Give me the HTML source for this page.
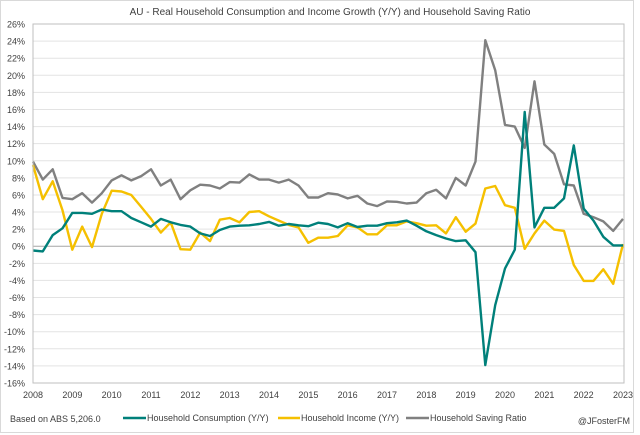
<!DOCTYPE html>
<html><head><meta charset="utf-8"><style>
html,body{margin:0;padding:0;background:#fff;}
svg{display:block;font-family:"Liberation Sans",Arial,sans-serif;}
</style></head><body>
<svg id="chart" width="640" height="435" viewBox="0 0 640 435" xmlns="http://www.w3.org/2000/svg">
<rect x="0.5" y="0.5" width="633" height="432" fill="#fff" stroke="#d9d9d9"/>
<text x="330" y="15" text-anchor="middle" font-size="10" fill="#404040">AU - Real Household Consumption and Income Growth (Y/Y) and Household Saving Ratio</text>
<g id="grid"></g><g id="series"></g><g id="axes"></g>
<text x="10" y="422" font-size="9" fill="#404040">Based on ABS 5,206.0</text>
<g font-size="9" fill="#404040">
<line x1="123" y1="418" x2="146" y2="418" stroke="#00807a" stroke-width="2.5"/>
<text x="147" y="421">Household Consumption (Y/Y)</text>
<line x1="278" y1="418" x2="300" y2="418" stroke="#f5c000" stroke-width="2.5"/>
<text x="301" y="421">Household Income (Y/Y)</text>
<line x1="406" y1="418" x2="429" y2="418" stroke="#808080" stroke-width="2.5"/>
<text x="430" y="421">Household Saving Ratio</text>
</g>
<text x="630" y="424" text-anchor="end" font-size="9" fill="#404040">@JFosterFM</text>
</svg>
<script>
const years = ["2008","2009","2010","2011","2012","2013","2014","2015","2016","2017","2018","2019","2020","2021","2022","2023"];
const yTicks = [-16,-14,-12,-10,-8,-6,-4,-2,0,2,4,6,8,10,12,14,16,18,20,22,24,26];
const consumption = [-0.5,-0.6,1.3,2.1,3.9,3.9,3.8,4.3,4.1,4.1,3.3,2.8,2.3,3.2,2.8,2.5,2.3,1.5,1.2,1.9,2.3,2.4,
2.45,2.6,2.85,2.4,2.6,2.45,2.35,2.75,2.6,2.2,2.7,2.25,2.4,2.4,2.7,2.8,3.0,2.4,1.75,1.3,
0.9,0.6,0.7,-0.7,-13.9,-6.9,-2.6,-0.4,15.7,2.2,4.5,4.5,5.6,11.8,4.4,3.0,1.1,0.1,0.1];
const income = [9.5,5.5,7.6,4.2,-0.4,2.3,-0.1,3.8,6.5,6.4,6.0,4.6,3.2,1.6,2.8,-0.35,-0.4,1.6,0.6,3.1,3.3,2.8,
4.0,4.1,3.5,3.0,2.5,2.2,0.4,1.0,1.0,1.2,2.45,2.2,1.4,1.4,2.45,2.45,2.9,2.7,2.4,2.45,
1.5,3.4,1.7,2.65,6.75,7.05,4.8,4.5,-0.3,1.5,3.0,1.95,1.8,-2.2,-4.05,-4.05,-2.7,-4.4,0.25];
const saving = [9.9,7.8,9.0,5.65,5.5,6.2,5.1,6.2,7.7,8.3,7.7,8.2,9.0,7.1,7.8,5.5,6.55,7.2,7.1,6.75,7.5,7.45,
8.4,7.8,7.8,7.45,7.8,7.1,5.7,5.7,6.2,6.05,5.6,5.9,5.0,4.7,5.25,5.2,5.0,5.1,6.2,6.6,
5.6,8.0,7.1,9.9,24.1,20.6,14.2,14.0,11.5,19.3,11.9,10.8,7.25,7.1,3.8,3.4,2.9,1.8,3.2];

const NS="http://www.w3.org/2000/svg";
const L=33,R=624,T=24,B=383,N=consumption.length;
const x=i=>L+(R-1-L)*i/(N-1);
const y=v=>T+(26-v)*(B-T)/42;
function mk(tag,attrs,parent,text){const e=document.createElementNS(NS,tag);for(const k in attrs)e.setAttribute(k,attrs[k]);if(text!==undefined)e.textContent=text;parent.appendChild(e);return e;}
const grid=document.getElementById('grid'),axes=document.getElementById('axes'),ser=document.getElementById('series');
yTicks.forEach(t=>{
  const g=mk('line',{x1:L,x2:R,y1:y(t),y2:y(t),stroke:t===0?'#a6a6a6':'#e3e3e3','stroke-width':1},grid);
  
  
  const lb=mk('text',{x:25,y:y(t)+3.5,'text-anchor':'end','font-size':9,fill:'#404040'},axes,t+'%');
  
  
});
const fr=mk('rect',{x:L,y:T,width:R-L,height:B-T,fill:'none',stroke:'#bfbfbf'},axes);


years.forEach((yr,k)=>{
  const lb=mk('text',{x:x(k*4),y:398,'text-anchor':'middle','font-size':9,fill:'#404040'},axes,yr);
  
  
});
function line(data,color,name){
  const p=mk('polyline',{points:data.map((v,i)=>x(i).toFixed(1)+','+y(v).toFixed(1)).join(' '),fill:'none',stroke:color,'stroke-width':2.4,'stroke-linejoin':'round'},ser);
  
  
}
line(saving,'#808080','saving-ratio-line');
line(income,'#f5c000','income-growth-line');
line(consumption,'#00807a','consumption-growth-line');
</script>
</body></html>
